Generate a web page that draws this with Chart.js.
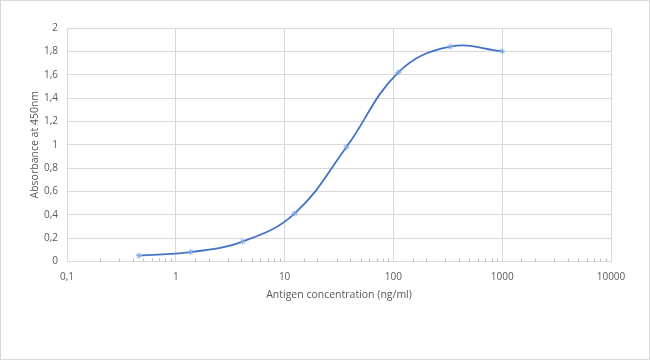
<!DOCTYPE html>
<html>
<head>
<meta charset="utf-8">
<script src="https://cdn.jsdelivr.net/npm/chart.js@4"></script>
<style>
  html, body { margin: 0; padding: 0; background: #fff; }
  #wrap { position: relative; width: 648px; height: 358px; border: 1px solid #d9d9d9; }
</style>
</head>
<body>
<div id="wrap"><canvas id="myChart" width="648" height="358"></canvas></div>
<script>
// Antigen dilution series (ng/ml) and measured absorbance
const concentrations = [0.457, 1.372, 4.115, 12.35, 37.04, 111.1, 333.3, 1000];
const absorbance = [0.05, 0.08, 0.17, 0.41, 0.98, 1.62, 1.84, 1.80];
const xMajorTicks = [0.1, 1, 10, 100, 1000, 10000];
const yTicks = [0, 0.2, 0.4, 0.6, 0.8, 1, 1.2, 1.4, 1.6, 1.8, 2];

const textColor = '#595959';
const gridColor = '#d9d9d9';

const isMajor = v => xMajorTicks.some(m => Math.abs(m - v) < m * 1e-6);
const fmt = v => String(v).replace('.', ',');

// little tick marks above the x axis for the minor log values
const minorTicks = {
  id: 'minorTicks',
  afterDatasetsDraw(chart) {
    const xs = chart.scales.x;
    const bottom = chart.chartArea.bottom;
    const c = chart.ctx;
    c.save();
    c.strokeStyle = '#bfbfbf';
    c.lineWidth = 1;
    xs.ticks.forEach(t => {
      if (isMajor(t.value)) return;
      const px = Math.round(xs.getPixelForValue(t.value)) + 0.5;
      c.beginPath();
      c.moveTo(px, bottom);
      c.lineTo(px, bottom - 3);
      c.stroke();
    });
    c.restore();
  }
};

const ctx = document.getElementById('myChart').getContext('2d');

const chart = new Chart(ctx, {
  type: 'line',
  data: {
    datasets: [{
      data: concentrations.map((x, i) => ({ x: x, y: absorbance[i] })),
      borderColor: '#4472c4',
      borderWidth: 1.8,
      tension: 0.4,
      pointStyle: 'star',
      pointRadius: 3,
      pointBorderColor: '#86a9e2',
      pointBorderWidth: 1,
      pointBackgroundColor: '#86a9e2',
      fill: false
    }]
  },
  options: {
    responsive: false,
    animation: false,
    layout: { padding: { left: 24, right: 38, top: 27, bottom: 58 } },
    plugins: {
      legend: { display: false },
      tooltip: { enabled: false }
    },
    scales: {
      x: {
        type: 'logarithmic',
        min: 0.1,
        max: 10000,
        border: { color: gridColor },
        grid: {
          color: c => isMajor(c.tick.value) ? gridColor : 'rgba(0,0,0,0)',
          drawTicks: false
        },
        ticks: {
          autoSkip: false,
          maxRotation: 0,
          padding: 10,
          color: textColor,
          font: { family: 'Open Sans', size: 10 },
          callback: v => isMajor(v) ? fmt(v) : ''
        },
        title: {
          display: true,
          text: 'Antigen concentration (ng/ml)',
          color: textColor,
          font: { family: 'Open Sans', size: 10.5 },
          padding: { top: -5, bottom: 0 }
        }
      },
      y: {
        min: 0,
        max: 2,
        afterBuildTicks: s => { s.ticks = yTicks.map(v => ({ value: v })); },
        afterFit: s => { s.width = 42; },
        border: { display: false },
        grid: { color: gridColor, drawTicks: false },
        ticks: {
          padding: 9,
          color: textColor,
          font: { family: 'Open Sans', size: 10 },
          callback: v => fmt(v)
        },
        title: {
          display: true,
          text: 'Absorbance at 450nm',
          color: textColor,
          font: { family: 'Open Sans', size: 10.5 },
          padding: { top: 4, bottom: 4 }
        }
      }
    }
  },
  plugins: [minorTicks]
});
</script>
</body>
</html>
